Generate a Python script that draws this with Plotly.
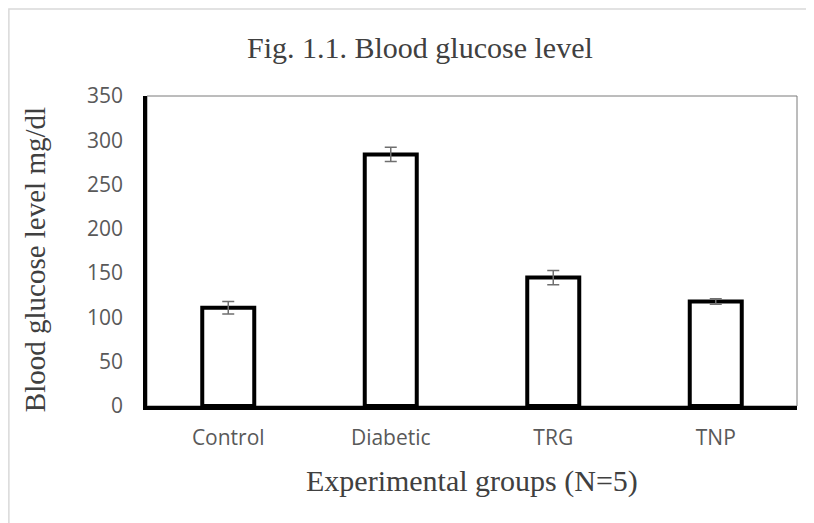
import plotly.graph_objects as go

groups = ["Control", "Diabetic", "TRG", "TNP"]
glucose_mean = [111, 284, 145, 118]
glucose_err = [7, 8, 8, 3]
y_ticks = [0, 50, 100, 150, 200, 250, 300, 350]

SERIF = "Liberation Serif, Times New Roman, serif"
SANS = "Open Sans, Liberation Sans, sans-serif"

fig = go.Figure(
    go.Bar(
        x=groups,
        y=glucose_mean,
        marker=dict(color="white", line=dict(color="black", width=4)),
        error_y=dict(type="data", array=glucose_err, color="#6f6f6f", thickness=1.5, width=6),
        width=0.32,
        hoverinfo="skip",
    )
)

# page body adds an 8px offset, so the figure is 8px smaller than the window
fig.update_layout(
    width=806,
    height=515,
    margin=dict(l=139, r=17, t=88, b=117),
    paper_bgcolor="white",
    plot_bgcolor="white",
    showlegend=False,
    xaxis=dict(
        showline=True, linecolor="black", linewidth=3.5,
        ticks="", showgrid=False, zeroline=False,
        tickfont=dict(family=SANS, size=21, color="#595959"),
        ticklabelstandoff=10,
    ),
    yaxis=dict(
        range=[0, 350], tickvals=y_ticks,
        showline=True, linecolor="black", linewidth=3.5,
        ticks="", showgrid=False, zeroline=False,
        tickfont=dict(family=SANS, size=21, color="#595959"),
        ticklabelstandoff=16,
    ),
    shapes=[
        # thin frame around the plot area
        dict(type="rect", xref="paper", yref="paper", x0=0, x1=1, y0=0, y1=1,
             line=dict(color="#7a7a7a", width=1), layer="below"),
        # light outer chart border
        dict(type="rect", xref="paper", yref="paper", x0=-0.2125, x1=1.05, y0=-0.5, y1=1.281,
             line=dict(color="#d9d9d9", width=1.5), layer="below"),
    ],
    annotations=[
        dict(text="Fig. 1.1. Blood glucose level", xref="paper", yref="paper",
             x=0.42, y=1.158, xanchor="center", yanchor="middle", showarrow=False,
             font=dict(family=SERIF, size=30, color="#404040")),
        dict(text="Experimental groups (N=5)", xref="paper", yref="paper",
             x=0.5, y=-0.242, xanchor="center", yanchor="middle", showarrow=False,
             font=dict(family=SERIF, size=30, color="#404040")),
        dict(text="Blood glucose level mg/dl", xref="paper", yref="paper",
             x=-0.172, y=0.471, xanchor="center", yanchor="middle", textangle=-90,
             showarrow=False, font=dict(family=SERIF, size=29, color="#404040")),
    ],
)

fig.write_html("out.html")
